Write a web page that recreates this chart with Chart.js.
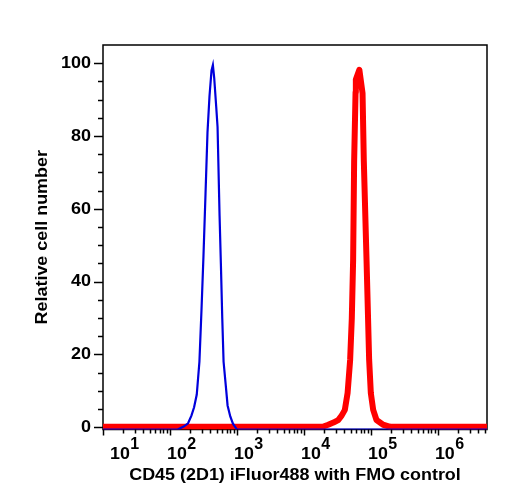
<!DOCTYPE html>
<html>
<head>
<meta charset="utf-8">
<script src="https://cdn.jsdelivr.net/npm/chart.js@4.4.1/dist/chart.umd.min.js"></script>
<style>
  html, body { margin: 0; padding: 0; background: #fff; }
  #wrap { width: 508px; height: 500px; position: relative; }
</style>
</head>
<body>
<div id="wrap"><canvas id="histChart"></canvas></div>
<script>
// FMO control (blue) - fluorescence intensity vs relative cell number
const blueX = [10, 130, 160, 186, 209, 229, 251, 275, 295, 316, 339, 363, 389, 417, 437,
               457, 490, 513, 550, 575, 603, 631, 692, 724, 794, 871, 1000, 5400000];
const blueY = [-0.6, -0.6, 0.2, 1.1, 3.2, 5.5, 9, 18, 32, 47, 64, 81, 91, 98, 99.5,
               96, 88, 82.5, 58, 45, 30, 18, 10, 6, 3, 1, -0.6, -0.6];

// CD45 (2D1) iFluor488 stained (red)
const redX = [10, 19000, 23000, 27500, 32400, 36500, 40800, 44800, 48900, 51800, 54200, 56100,
              58900, 59500, 67100, 74900, 78300, 85900, 94000, 99600, 108000, 121000, 152000,
              195000, 5400000];
const redY = [0.15, 0.15, 0.7, 1.3, 2, 3.2, 4.8, 9.4, 18.5, 30, 46, 73,
              92, 95.5, 98.2, 91.8, 73, 46, 18.5, 9.4, 4.8, 2, 0.7,
              0.15, 0.15];

// axis labels
const xDecades = [10, 100, 1000, 10000, 100000, 1000000];
const xExponents = ['1', '2', '3', '4', '5', '6'];
const yTickValues = [0, 20, 40, 60, 80, 100];
const yTitle = 'Relative cell number';
const xTitle = 'CD45 (2D1) iFluor488 with FMO control';

const FONT = '"Liberation Sans", Arial, sans-serif';

function toPoints(xs, ys) {
    return xs.map((x, i) => ({ x: x, y: ys[i] }));
}

// text a bit wider than the font, like the original export
function wideText(ctx, text, x, y, stretch) {
    ctx.save();
    ctx.translate(x, y);
    ctx.scale(stretch, 1);
    ctx.fillText(text, 0, 0);
    ctx.restore();
}

// frame under the curves, ticks and text on top
const flowAxes = {
    id: 'flowAxes',
    beforeDatasetsDraw(chart) {
        const ctx = chart.ctx;
        const a = chart.chartArea;
        ctx.save();
        ctx.strokeStyle = '#000';
        ctx.lineWidth = 1.5;
        ctx.strokeRect(a.left, a.top, a.right - a.left, a.bottom - a.top);
        ctx.restore();
    },
    afterDatasetsDraw(chart) {
        const ctx = chart.ctx;
        const a = chart.chartArea;
        const xs = chart.scales.x;
        const ys = chart.scales.y;
        ctx.save();
        ctx.strokeStyle = '#000';
        ctx.fillStyle = '#000';
        ctx.lineWidth = 1.5;

        // x ticks (log decades + minor)
        xDecades.forEach(d => {
            for (let m = 1; m <= 9; m++) {
                const v = m * d;
                if (v < xs.min || v > xs.max) continue;
                const px = Math.round(xs.getPixelForValue(v)) + 0.5;
                const len = m === 1 ? 6 : 4;
                ctx.beginPath();
                ctx.moveTo(px, a.bottom);
                ctx.lineTo(px, a.bottom + len);
                ctx.stroke();
            }
        });

        // y ticks every 5, major every 20
        for (let v = 0; v <= 100; v += 5) {
            const py = Math.round(ys.getPixelForValue(v)) + 0.5;
            const len = v % 20 === 0 ? 9 : 5;
            ctx.beginPath();
            ctx.moveTo(a.left, py);
            ctx.lineTo(a.left - len, py);
            ctx.stroke();
        }

        // y tick labels
        ctx.font = 'bold 17px ' + FONT;
        ctx.textAlign = 'right';
        ctx.textBaseline = 'middle';
        yTickValues.forEach(v => {
            wideText(ctx, String(v), a.left - 12, ys.getPixelForValue(v), 1.06);
        });

        // x tick labels 10^n
        ctx.textAlign = 'left';
        ctx.textBaseline = 'alphabetic';
        xDecades.forEach((d, i) => {
            const px = xs.getPixelForValue(d);
            const left = Math.max(px - 3, a.left + 7);
            ctx.font = 'bold 17px ' + FONT;
            wideText(ctx, '10', left, 458.5, 1.05);
            const w = ctx.measureText('10').width * 1.05;
            ctx.font = 'bold 16px ' + FONT;
            ctx.fillText(xExponents[i], left + w + 0.5, 448.5);
        });

        // axis titles
        ctx.font = 'bold 16px ' + FONT;
        ctx.textAlign = 'center';
        wideText(ctx, xTitle, (a.left + a.right) / 2, 480, 1.12);

        ctx.translate(46.5, (a.top + a.bottom) / 2);
        ctx.rotate(-Math.PI / 2);
        wideText(ctx, yTitle, 0, 0, 1.12);
        ctx.restore();
    }
};

new Chart(document.getElementById('histChart'), {
    type: 'line',
    data: {
        datasets: [
            {
                label: 'FMO control',
                data: toPoints(blueX, blueY),
                borderColor: 'rgb(0, 0, 220)',
                borderWidth: 2.2,
                pointRadius: 0,
                tension: 0,
                order: 1
            },
            {
                label: 'CD45 (2D1) iFluor488',
                data: toPoints(redX, redY),
                borderColor: '#ff0000',
                borderWidth: 6,
                borderJoinStyle: 'round',
                pointRadius: 0,
                tension: 0,
                order: 2
            }
        ]
    },
    options: {
        responsive: true,
        maintainAspectRatio: false,
        animation: false,
        layout: { padding: { left: 103, right: 21, top: 45, bottom: 70.5 } },
        plugins: { legend: { display: false }, tooltip: { enabled: false } },
        scales: {
            x: { type: 'logarithmic', min: 10, max: 5400000, display: false },
            y: { type: 'linear', min: -0.6, max: 105, display: false }
        }
    },
    plugins: [flowAxes]
});
</script>
</body>
</html>
